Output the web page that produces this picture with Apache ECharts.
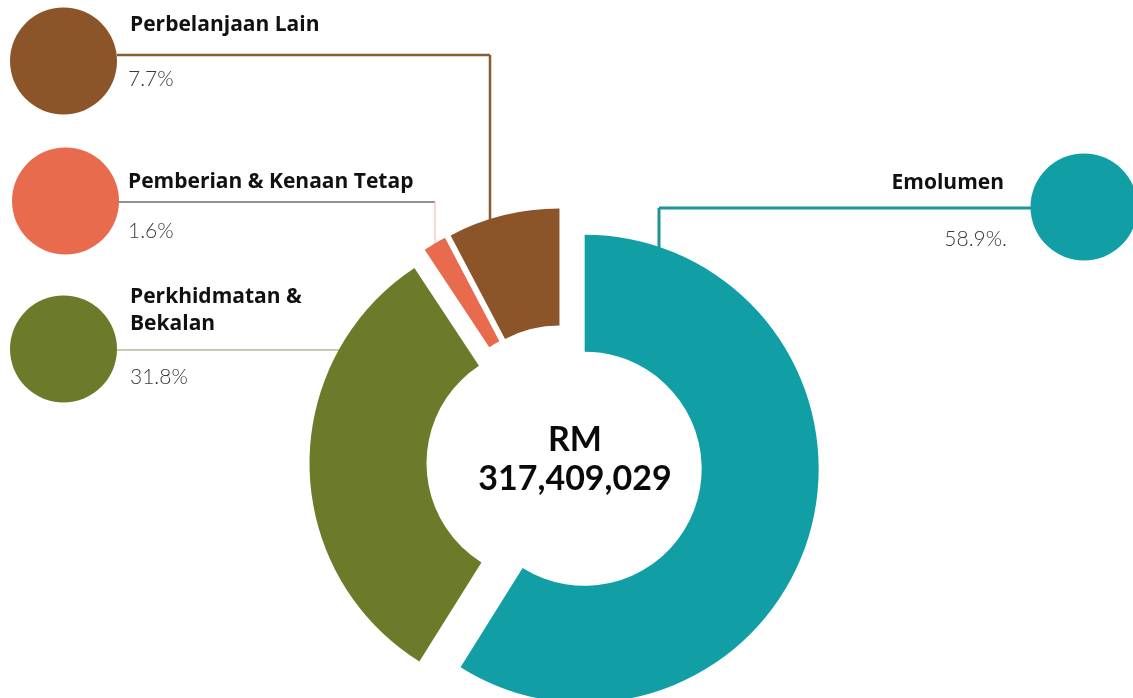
<!DOCTYPE html>
<html>
<head>
<meta charset="utf-8">
<script src="https://cdn.jsdelivr.net/npm/echarts@6/dist/echarts.min.js"></script>
<style>
  html, body { margin: 0; padding: 0; background: #ffffff; }
  #chart { width: 1133px; height: 698px; }
</style>
</head>
<body>
<div id="chart"></div>
<script>
// Spending breakdown (share of total, %)
const categories = ['Emolumen', 'Perkhidmatan & Bekalan', 'Pemberian & Kenaan Tetap', 'Perbelanjaan Lain'];
const shares = [58.9, 31.8, 1.6, 7.7];
const pctSuffix = ['%.', '%', '%', '%'];
const totalRM = 317409029;
const colors = ['#119EA5', '#6B7B29', '#E86B4E', '#8B5529'];

// Donut geometry
const CX = 564.5, CY = 463, R0 = 117, R1 = 234, OFFSET = 21;

// Callout placement per category: marker circle, texts and elbow leader line
const callouts = [
  { circle: [1084, 207], align: 'right', nameX: 1004, nameY: 183, pctX: 1007, pctY: 239,
    lineY: 208, lineStart: 1031, dropX: 659, hColor: '#1f9399', vColor: '#1f9399', width: 3 },
  { circle: [63.5, 349], align: 'left', nameX: 130, nameY: 311, pctX: 130, pctY: 377, wrap: 200,
    lineY: 350, lineStart: 117, dropX: null, hColor: '#c9cab6', vColor: '#c9cab6', width: 2 },
  { circle: [65.5, 201], align: 'left', nameX: 128, nameY: 182, pctX: 128, pctY: 231,
    lineY: 202, lineStart: 118, dropX: 435, hColor: '#2a2420', vColor: '#f3c2b2', width: 1.2 },
  { circle: [63.5, 61], align: 'left', nameX: 130, nameY: 25, pctX: 128, pctY: 79,
    lineY: 55, lineStart: 117, dropX: 490, hColor: '#8a5a30', vColor: '#8a5a30', width: 2.5 }
];
const MARK_R = 53.5;
const NAME_FONT = 'bold 21px "Open Sans", Lato, sans-serif';
const PCT_FONT = '300 21px Lato, "Open Sans", sans-serif';
const TOTAL_FONT = 'bold 34px Lato, "Open Sans", sans-serif';

const chart = echarts.init(document.getElementById('chart'), null, { renderer: 'canvas' });

// Centre of each slice after it is pulled out along its mid angle
const total = shares.reduce((a, b) => a + b, 0);
function sliceCenter(i) {
  let before = 0;
  for (let k = 0; k < i; k++) before += shares[k];
  const mid = (before + shares[i] / 2) / total * 2 * Math.PI; // clockwise from 12 o'clock
  return [CX + OFFSET * Math.sin(mid), CY - OFFSET * Math.cos(mid)];
}

const graphics = [];
callouts.forEach((c, i) => {
  const [sx, sy] = sliceCenter(i);
  if (c.dropX != null) {
    const endY = sy - Math.sqrt(R1 * R1 - (c.dropX - sx) * (c.dropX - sx));
    graphics.push({ type: 'line', z: 1, shape: { x1: c.lineStart, y1: c.lineY, x2: c.dropX, y2: c.lineY },
      style: { stroke: c.hColor, lineWidth: c.width } });
    graphics.push({ type: 'line', z: 1, shape: { x1: c.dropX, y1: c.lineY, x2: c.dropX, y2: endY + 1 },
      style: { stroke: c.vColor, lineWidth: c.width } });
  } else {
    const endX = sx - Math.sqrt(R1 * R1 - (c.lineY - sy) * (c.lineY - sy));
    graphics.push({ type: 'line', z: 1, shape: { x1: c.lineStart, y1: c.lineY, x2: endX + 1, y2: c.lineY },
      style: { stroke: c.hColor, lineWidth: c.width } });
  }
  graphics.push({ type: 'circle', z: 2, shape: { cx: c.circle[0], cy: c.circle[1], r: MARK_R },
    style: { fill: colors[i] } });
  const nameStyle = {
    text: categories[i], x: c.nameX, y: c.nameY, fill: '#111111',
    font: NAME_FONT, align: c.align, verticalAlign: 'middle', lineHeight: 27
  };
  if (c.wrap) { nameStyle.width = c.wrap; nameStyle.overflow = 'break'; }
  graphics.push({ type: 'text', z: 3, style: nameStyle });
  graphics.push({ type: 'text', z: 3, style: {
    text: shares[i].toFixed(1) + pctSuffix[i], x: c.pctX, y: c.pctY, fill: '#3a3a3a',
    font: PCT_FONT, align: c.align, verticalAlign: 'middle'
  } });
});

// Total in the hole of the donut
graphics.push({ type: 'text', z: 3, style: {
  text: 'RM', x: 575, y: 440, fill: '#0a0a0a', font: TOTAL_FONT,
  align: 'center', verticalAlign: 'middle'
} });
graphics.push({ type: 'text', z: 3, style: {
  text: totalRM.toLocaleString('en-US'), x: 575, y: 479, fill: '#0a0a0a', font: TOTAL_FONT,
  align: 'center', verticalAlign: 'middle'
} });

chart.setOption({
  animation: false,
  backgroundColor: '#ffffff',
  series: [{
    type: 'pie',
    center: [CX, CY],
    radius: [R0, R1],
    startAngle: 90,
    clockwise: true,
    selectedMode: 'multiple',
    selectedOffset: OFFSET,
    label: { show: false },
    labelLine: { show: false },
    emphasis: { disabled: true },
    itemStyle: { borderWidth: 0 },
    select: { itemStyle: { borderWidth: 0 } },
    data: categories.map((name, i) => ({
      name, value: shares[i], selected: true, itemStyle: { color: colors[i] }
    }))
  }],
  graphic: graphics
});
</script>
</body>
</html>
